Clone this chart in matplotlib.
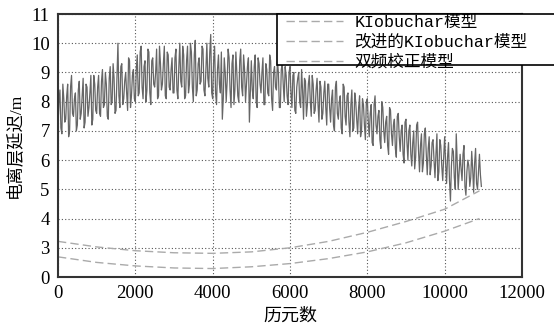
import numpy as np
import matplotlib
matplotlib.use("Agg")
import matplotlib.pyplot as plt
from matplotlib.patches import Rectangle

plt.rcParams['font.family'] = ['Liberation Serif', 'Noto Sans CJK SC']

# dual-frequency corrected delay, read every 50 epochs (0, 50, 100, ...)
dual_step = 50
dual_freq = [
    7.2, 8.4, 6.9, 8.1, 7.4, 8.6, 7.0, 8.9, 7.5, 8.3, 7.2, 8.7, 7.6, 8.8, 7.3, 8.5, 7.8, 8.9, 7.4, 8.6,
    7.6, 8.9, 7.5, 9.1, 7.9, 8.6, 7.4, 9.2, 8.0, 8.8, 7.7, 10.0, 7.8, 9.3, 8.1, 9.0, 7.7, 9.4, 8.2, 9.1,
    8.0, 9.6, 8.3, 9.9, 8.1, 9.4, 8.4, 9.7, 7.9, 9.5, 8.5, 9.8, 8.2, 9.3, 8.6, 9.9, 8.1, 9.6, 8.4, 9.5,
    8.3, 9.8, 8.1, 10.0, 8.5, 9.6, 8.2, 9.9, 8.6, 9.7, 8.0, 10.1, 8.4, 9.5, 8.7, 9.8, 8.2, 10.0, 8.5, 10.3,
    8.1, 9.9, 7.9, 9.6, 8.3, 7.4, 9.5, 8.0, 9.8, 8.4, 9.3, 7.9, 9.7, 8.2, 9.4, 8.5, 9.6, 8.0, 9.2, 7.3,
    9.4, 8.1, 9.6, 7.8, 9.3, 8.3, 9.5, 7.9, 9.1, 8.2, 9.4, 7.7, 9.2, 8.4, 9.0, 7.8, 9.3, 8.0, 8.9, 7.9,
    9.2, 7.8, 9.0, 7.6, 8.8, 8.0, 9.1, 7.4, 8.7, 7.9, 8.9, 7.5, 8.6, 7.7, 8.8, 7.3, 8.5, 7.6, 8.7, 7.2,
    8.6, 7.3, 8.4, 7.0, 8.7, 7.4, 8.2, 6.9, 8.5, 7.2, 8.3, 6.8, 8.4, 7.1, 8.0, 6.9, 8.2, 7.0, 7.9, 6.7,
    8.1, 6.8, 7.9, 6.5, 8.2, 6.9, 7.7, 6.4, 7.8, 6.6, 7.5, 6.2, 7.7, 6.5, 7.4, 6.1, 7.6, 6.3, 7.2, 5.9,
    7.4, 6.0, 7.2, 5.8, 7.0, 6.1, 7.3, 5.6, 6.9, 5.9, 7.1, 5.5, 6.8, 5.8, 6.7, 5.4, 6.9, 5.6, 6.5, 5.3,
    6.8, 5.2, 6.6, 4.6, 6.4, 5.4, 6.9, 5.0, 6.2, 5.3, 6.5, 4.8, 6.0, 5.1, 6.3, 4.9, 6.4, 5.0, 6.2, 5.1,
]
# readings in between (25, 75, 125, ...)
dual_freq_mid = [
    8.0, 7.1, 8.6, 7.3, 8.2, 6.8, 8.5, 7.6, 8.1, 7.0, 8.4, 7.4, 8.2, 7.1, 8.6, 7.5, 8.3, 7.2, 8.9, 7.7,
    8.5, 7.6, 8.7, 7.8, 9.0, 7.5, 8.8, 7.9, 9.3, 7.6, 8.9, 8.2, 9.2, 7.9, 8.7, 8.3, 9.5, 7.8, 8.9, 8.1,
    9.1, 8.2, 9.7, 8.5, 9.2, 8.0, 9.8, 8.3, 9.4, 8.6, 9.0, 8.1, 9.9, 8.4, 9.3, 8.2, 9.7, 8.5, 9.1, 8.3,
    9.5, 8.4, 9.2, 8.7, 9.9, 8.1, 9.4, 8.3, 10.0, 8.5, 9.6, 8.2, 9.3, 8.6, 9.9, 8.4, 9.1, 8.8, 9.7, 8.3,
    9.4, 8.3, 9.1, 8.6, 9.7, 8.1, 9.0, 8.7, 9.5, 7.8, 9.6, 8.4, 9.0, 8.0, 9.8, 8.2, 9.1, 8.6, 9.5, 8.3,
    8.4, 9.2, 8.0, 9.5, 8.6, 9.0, 7.9, 9.3, 8.3, 9.6, 8.1, 9.0, 8.5, 9.4, 7.8, 9.1, 8.6, 9.2, 8.2, 9.0,
    8.3, 8.9, 7.7, 8.5, 9.0, 7.8, 8.4, 8.8, 7.5, 8.6, 8.0, 8.9, 7.6, 8.4, 7.9, 8.7, 7.4, 8.3, 7.8, 8.6,
    7.8, 8.1, 7.2, 8.5, 7.6, 8.0, 7.1, 8.6, 7.5, 8.2, 7.3, 7.9, 7.0, 8.3, 7.4, 7.8, 6.8, 8.1, 7.2, 8.0,
    7.3, 7.6, 6.6, 7.9, 7.2, 7.5, 6.7, 8.0, 7.0, 7.3, 6.5, 7.8, 6.9, 7.2, 6.4, 7.5, 6.8, 7.0, 6.2, 7.3,
    6.6, 7.0, 6.2, 6.6, 5.7, 7.2, 6.3, 6.5, 5.6, 6.9, 6.2, 6.4, 5.5, 6.6, 6.0, 6.2, 5.3, 6.7, 5.8, 6.1,
    5.9, 6.1, 5.3, 5.8, 6.3, 5.0, 6.0, 5.6, 5.7, 6.2, 5.1, 5.6, 5.8, 5.4, 5.7, 5.9, 5.2, 5.6, 5.5,
]

# model curves
model_epochs = [0, 1000, 2000, 3000, 4000, 5000, 6000, 7000, 8000, 9000, 10000, 10900]
klobuchar = [2.69, 2.50, 2.38, 2.31, 2.29, 2.35, 2.46, 2.63, 2.86, 3.17, 3.57, 4.00]
improved = [3.22, 3.03, 2.90, 2.83, 2.81, 2.86, 3.00, 3.22, 3.53, 3.90, 4.32, 4.95]

x_ticks = [0, 2000, 4000, 6000, 8000, 10000, 12000]
y_ticks = [2, 3, 4, 5, 6, 7, 8, 9, 10, 11]
y_tick_labels = ['0', '3', '4', '5', '6', '7', '8', '9', '10', '11']

labels = ['KIobuchar模型', '改进的KIobuchar模型', '双频校正模型']

ep_a = dual_step * np.arange(len(dual_freq))
ep_b = dual_step * np.arange(len(dual_freq_mid)) + dual_step // 2
dual_epochs = np.concatenate([ep_a, ep_b])
dual_vals = np.concatenate([dual_freq, dual_freq_mid])
order = np.argsort(dual_epochs)

fig = plt.figure(figsize=(5.54, 3.29), dpi=100)
ax = fig.add_axes([0.1047, 0.158, 0.8375, 0.7994])

dash = (0, (6, 3))
l1, = ax.plot(model_epochs, klobuchar, color='#aaaaaa', lw=1.0, ls=dash)
l2, = ax.plot(model_epochs, improved, color='#aaaaaa', lw=1.0, ls=dash)
ax.plot(dual_epochs[order], dual_vals[order], color='#666666', lw=0.9)

ax.set_xlim(0, 12000)
ax.set_ylim(2, 11)
ax.set_xticks(x_ticks)
ax.set_yticks(y_ticks)
ax.set_yticklabels(y_tick_labels)
ax.tick_params(length=0, labelsize=13.5, pad=6)
ax.grid(True, color='#555555', ls=(0, (1, 2)), lw=0.8)

for s in ax.spines.values():
    s.set_color('#333333')
    s.set_linewidth(1.5)

ax.set_xlabel('历元数', fontsize=13, labelpad=4)
ax.set_ylabel('电离层延迟/m', fontsize=12.5, labelpad=6)

# legend box, runs off the right edge like the reference
box = Rectangle((277 / 554, 1 - 65 / 329), 300 / 554, 51 / 329,
                transform=fig.transFigure, facecolor='white',
                edgecolor='black', lw=1.2, zorder=9)
fig.patches.append(box)

h3 = plt.Line2D([], [], color='#aaaaaa', lw=1.0, ls=dash)
leg = fig.legend([l1, l2, h3], labels, loc='upper left',
                 bbox_to_anchor=(286 / 554, 1 - 14.5 / 329),
                 prop={'family': ['Liberation Mono', 'Noto Sans CJK SC'], 'size': 12},
                 frameon=False, borderpad=0, labelspacing=0.27,
                 handlelength=3.4, handletextpad=0.7, borderaxespad=0)
leg.set_zorder(10)

fig.savefig('out.png', dpi=100)
